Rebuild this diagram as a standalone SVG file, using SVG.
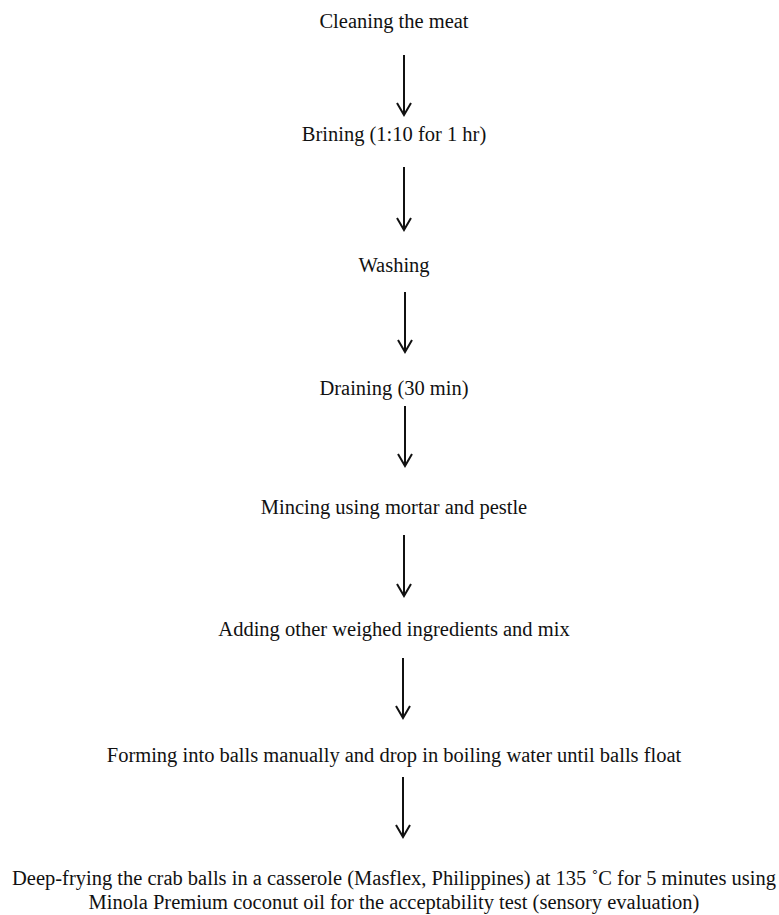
<svg xmlns="http://www.w3.org/2000/svg" width="779" height="915" viewBox="0 0 779 915">
<style>
.t{font-family:"Liberation Serif","Times New Roman",serif;font-size:20.5px;fill:#111;text-anchor:middle}
.a{fill:none;stroke:#111;stroke-width:2;stroke-linecap:butt}
</style>
<rect width="779" height="915" fill="#fff"/>
<g id="n1"><text class="t" x="394" y="28">Cleaning the meat</text></g>
<g id="n2"><text class="t" x="394" y="141">Brining (1:10 for 1 hr)</text></g>
<g id="n3"><text class="t" x="394" y="272">Washing</text></g>
<g id="n4"><text class="t" x="394" y="395">Draining (30 min)</text></g>
<g id="n5"><text class="t" x="394" y="514">Mincing using mortar and pestle</text></g>
<g id="n6"><text class="t" x="394" y="636">Adding other weighed ingredients and mix</text></g>
<g id="n7"><text class="t" x="394" y="762">Forming into balls manually and drop in boiling water until balls float</text></g>
<g id="n8"><text class="t" x="394" y="885">Deep-frying the crab balls in a casserole (Masflex, Philippines) at 135 ˚C for 5 minutes using</text><text class="t" x="394" y="909">Minola Premium coconut oil for the acceptability test (sensory evaluation)</text></g>
<g id="connectors">
<path class="a" d="M404 55V115M397 103L404 115L411 103"/>
<path class="a" d="M404 167V230M397 218L404 230L411 218"/>
<path class="a" d="M405 292V352M398 340L405 352L412 340"/>
<path class="a" d="M405 406V466M398 454L405 466L412 454"/>
<path class="a" d="M404 535V596M397 584L404 596L411 584"/>
<path class="a" d="M403 658V718M396 706L403 718L410 706"/>
<path class="a" d="M403 777V837M396 825L403 837L410 825"/>
</g>
</svg>
